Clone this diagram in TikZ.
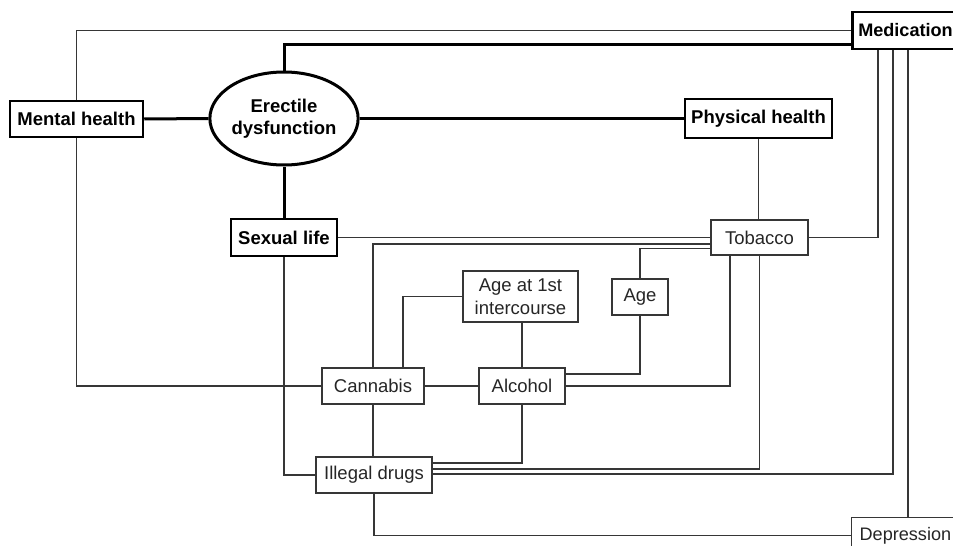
\documentclass[tikz,border=0pt]{standalone}
\usepackage{fontspec}
\setmainfont{Liberation Sans}
\usetikzlibrary{shapes.geometric}
\definecolor{linegray}{HTML}{363636}
\definecolor{textgray}{HTML}{262626}
\tikzset{
  thinbox/.style={draw=linegray, line width=1.3pt, fill=white, inner sep=0pt,
    font=\fontsize{18.5}{23}\selectfont, text=textgray, align=center},
  boldbox/.style={draw=black, line width=2.5pt, fill=white, inner sep=0pt,
    font=\fontsize{18.5}{22}\selectfont\bfseries, align=center},
  thinline/.style={draw=linegray, line width=1.3pt},
  thickline/.style={draw=black, line width=3pt},
}
\begin{document}
\begin{tikzpicture}[x=1pt,y=-1pt]
\useasboundingbox (0,0) rectangle (953,546);
\clip (0,0) rectangle (953,546);
\fill[white] (0,0) rectangle (953,546);

% nodes
\node[boldbox, minimum width=133pt, minimum height=36pt] (mh) at (76.5,119) {Mental health};
\node[boldbox, ellipse, line width=3pt, minimum width=128pt, minimum height=93pt] (ed) at (284,118.5) {Erectile\\dysfunction};
\node[boldbox, minimum width=147pt, minimum height=39pt] (ph) at (758.5,118.5) {Physical health};
\node[boldbox, anchor=west, inner xsep=6pt, text width=108pt, align=left, minimum height=37pt,
      font=\fontsize{18.1}{22}\selectfont\bfseries] (med) at (851,30.5) {Medication};
\node[boldbox, minimum width=106pt, minimum height=37pt] (sl) at (284,237.5) {Sexual life};
\node[thinbox, minimum width=97pt, minimum height=35pt] (tob) at (759.5,237.5) {Tobacco};
\node[thinbox, minimum width=115pt, minimum height=51pt] (a1) at (520.5,296.5) {Age at 1st\\intercourse};
\node[thinbox, minimum width=56pt, minimum height=36pt] (age) at (640,297) {Age};
\node[thinbox, minimum width=102pt, minimum height=36pt] (can) at (373,386) {Cannabis};
\node[thinbox, minimum width=86pt, minimum height=36pt] (alc) at (522,386) {Alcohol};
\node[thinbox, minimum width=116pt, minimum height=36pt] (ild) at (374,475) {Illegal drugs};
\node[thinbox, anchor=north west, inner xsep=8pt, text width=104pt, align=left, minimum height=36pt,
      font=\fontsize{18.1}{23}\selectfont] (dep) at (851,517) {Depression};

% thick connectors
\draw[thickline] (mh.east) -- (ed.west);
\draw[thickline] (ed.east) -- (ed.east -| ph.west);
\draw[thickline] (ed.south) -- (sl.north);
\draw[thickline] (ed.north) |- ([yshift=6pt]med.south west);

% thin connectors
\draw[thinline] (mh.north) |- (med.west);
\draw[thinline] (mh.south) |- (can.west);
\draw[thinline] (sl.east) -- (tob.west);
\draw[thinline] (sl.south) |- (ild.west);
\draw[thinline] (ph.south) -- (ph.south |- tob.north);
\draw[thinline] (can.north) |- ([yshift=-6.5pt]tob.west);
\draw[thinline] ([xshift=30pt]can.north) |- (a1.west);
\draw[thinline] (can.east) -- (alc.west);
\draw[thinline] (can.south) -- (can.south |- ild.north);
\draw[thinline] (alc.north) -- (alc.north |- a1.south);
\draw[thinline] (age.north) |- ([yshift=-11pt]tob.west);
\draw[thinline] (age.south) |- ([yshift=12pt]alc.east);
\draw[thinline] (alc.east) -| ([xshift=-29.5pt]tob.south);
\draw[thinline] (alc.south) |- ([yshift=12pt]ild.east);
\draw[thinline] (tob.south) |- ([yshift=6pt]ild.east);
\draw[thinline] ([xshift=42pt]med.south west) |- ([yshift=1pt]ild.east);
\draw[thinline] ([xshift=27pt]med.south west) |- (tob.east);
\draw[thinline] ([xshift=57pt]med.south west) -- ([xshift=57pt]med.south west |- dep.north);
\draw[thinline] (ild.south) |- (dep.west);
\end{tikzpicture}
\end{document}
